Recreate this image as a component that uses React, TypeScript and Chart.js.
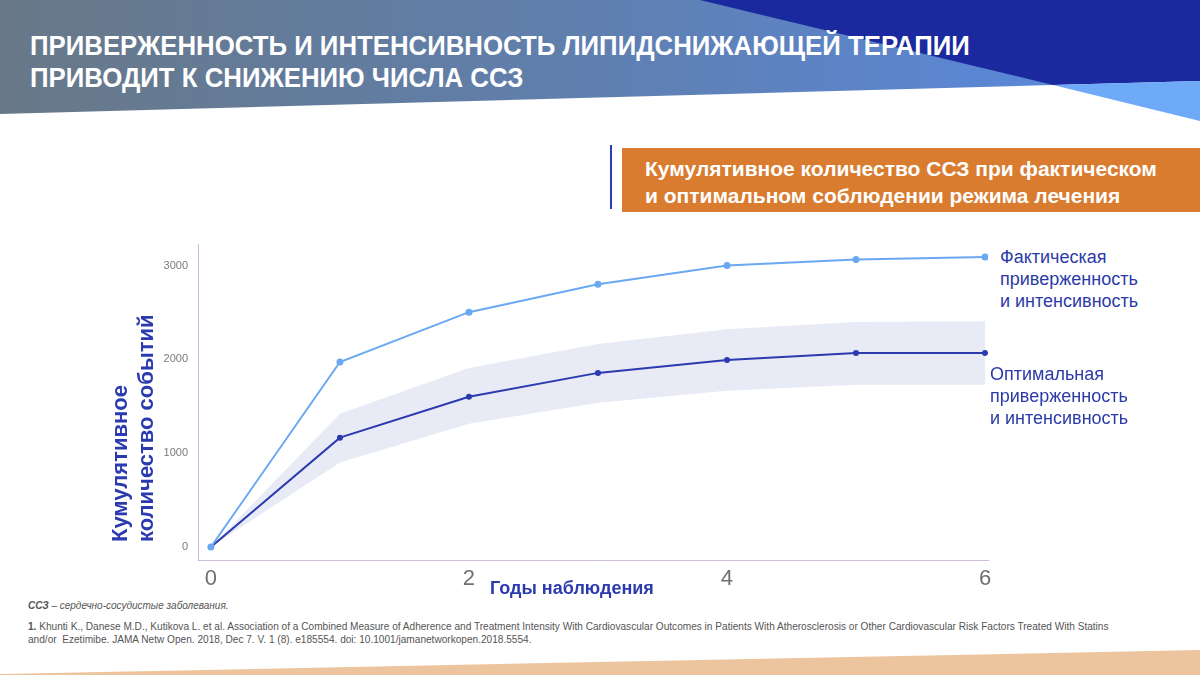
import React, { useEffect, useRef } from "react";
import { Chart, registerables } from "chart.js";

Chart.register(...registerables);

const years = [0, 1, 2, 3, 4, 5, 6];
const actualAdherence = [0, 1972, 2503, 2800, 3000, 3065, 3090];
const optimalAdherence = [0, 1166, 1601, 1856, 1994, 2068, 2068];
const optimalUpper = [0, 1421, 1909, 2163, 2322, 2397, 2407];
const optimalLower = [0, 901, 1315, 1538, 1665, 1729, 1729];
const xTickValues = [0, 2, 4, 6];
const yTickValues = [0, 1000, 2000, 3000];

const NAVY = "#2b3aae";
const LIGHT = "#6aa9f2";
const FONT = "'Liberation Sans', Arial, sans-serif";

const toPoints = (vals: number[]) => years.map((x, i) => ({ x, y: vals[i] }));

export default function App() {
  const ref = useRef<HTMLCanvasElement | null>(null);

  useEffect(() => {
    if (!ref.current) return;
    const chart = new Chart(ref.current, {
      type: "line",
      data: {
        datasets: [
          {
            label: "Фактическая приверженность и интенсивность",
            data: toPoints(actualAdherence),
            borderColor: LIGHT,
            backgroundColor: LIGHT,
            borderWidth: 2,
            pointRadius: 3.5,
            pointBorderWidth: 0,
            fill: false,
          },
          {
            label: "Оптимальная приверженность и интенсивность",
            data: toPoints(optimalAdherence),
            borderColor: NAVY,
            backgroundColor: NAVY,
            borderWidth: 2,
            pointRadius: 3,
            pointBorderWidth: 0,
            fill: false,
          },
          {
            label: "upper",
            data: toPoints(optimalUpper),
            borderWidth: 0,
            borderColor: "rgba(0,0,0,0)",
            backgroundColor: "#e8eaf6",
            pointRadius: 0,
            fill: "+1",
          },
          {
            label: "lower",
            data: toPoints(optimalLower),
            borderWidth: 0,
            borderColor: "rgba(0,0,0,0)",
            backgroundColor: "#e8eaf6",
            pointRadius: 0,
            fill: false,
          },
        ],
      },
      options: {
        responsive: false,
        animation: false,
        layout: { padding: { top: 9, right: 12, left: 0, bottom: 0 } },
        plugins: {
          legend: { display: false },
          tooltip: { enabled: false },
        },
        scales: {
          x: {
            type: "linear",
            min: -0.1,
            max: 6.023,
            grid: { display: false, drawTicks: false },
            border: { display: true, color: "#cdb9db", width: 1 },
            ticks: {
              color: "#707070",
              font: { family: FONT, size: 22 },
              padding: 6,
              maxRotation: 0,
              callback: (v: any) => String(v),
            },
            afterBuildTicks: (s: any) => {
              s.ticks = xTickValues.map((v) => ({ value: v }));
            },
            afterFit: (s: any) => {
              s.height = 40;
            },
          },
          y: {
            type: "linear",
            min: -138,
            max: 3223,
            grid: { display: false, drawTicks: false },
            border: { display: true, color: "#cdb9db", width: 1 },
            ticks: {
              color: "#7a7a7a",
              font: { family: FONT, size: 11 },
              padding: 10,
              callback: (v: any) => String(v),
            },
            afterBuildTicks: (s: any) => {
              s.ticks = yTickValues.map((v) => ({ value: v }));
            },
            afterFit: (s: any) => {
              s.width = 58;
            },
          },
        },
      },
    });
    return () => chart.destroy();
  }, []);

  return (
    <div
      style={{
        position: "fixed",
        left: 0,
        top: 0,
        width: 1200,
        height: 675,
        overflow: "hidden",
        background: "#ffffff",
        fontFamily: FONT,
      }}
    >
      <svg
        width={1200}
        height={675}
        style={{ position: "absolute", left: 0, top: 0, display: "block" }}
      >
        <defs>
          <linearGradient id="hdr" x1="0" y1="0" x2="1" y2="0">
            <stop offset="0" stopColor="#687887" />
            <stop offset="0.55" stopColor="#5f7fae" />
            <stop offset="1" stopColor="#5a87d8" />
          </linearGradient>
        </defs>
        <polygon points="0,0 1053,0 1053,85 0,114" fill="url(#hdr)" />
        <polygon points="700,0 1200,0 1200,81 1053,85" fill="#1a2a9e" />
        <polygon points="1053,85 1200,81 1200,121" fill="#6eaaf8" />
        <polygon points="0,674 1200,650 1200,675 0,675" fill="#ecc59e" />
        <rect x={610} y={145} width={2} height={64} fill="#2b3bb5" />
        <rect x={622} y={148} width={578} height={64} fill="#d97c30" />
      </svg>

      <div
        style={{
          position: "absolute",
          left: 30,
          top: 30,
          color: "#ffffff",
          fontWeight: 700,
          fontSize: 27,
          lineHeight: "32px",
          whiteSpace: "nowrap",
          transform: "scaleX(0.955)",
          transformOrigin: "left top",
        }}
      >
        ПРИВЕРЖЕННОСТЬ И ИНТЕНСИВНОСТЬ ЛИПИДСНИЖАЮЩЕЙ ТЕРАПИИ
        <br />
        ПРИВОДИТ К СНИЖЕНИЮ ЧИСЛА ССЗ
      </div>

      <div
        style={{
          position: "absolute",
          left: 645,
          top: 155,
          color: "#ffffff",
          fontWeight: 700,
          fontSize: 21,
          lineHeight: "27px",
          whiteSpace: "nowrap",
        }}
      >
        Кумулятивное количество ССЗ при фактическом
        <br />
        и оптимальном соблюдении режима лечения
      </div>

      <canvas
        ref={ref}
        width={860}
        height={372}
        style={{ position: "absolute", left: 140, top: 228, width: 860, height: 372 }}
      />

      <div
        style={{
          position: "absolute",
          left: 107,
          top: 306,
          height: 236,
          width: 54,
          writingMode: "vertical-rl",
          transform: "rotate(180deg)",
          color: NAVY,
          fontWeight: 700,
          fontSize: 22,
          lineHeight: "26px",
          whiteSpace: "nowrap",
        }}
      >
        Кумулятивное
        <br />
        количество событий
      </div>

      <div
        style={{
          position: "absolute",
          left: 490,
          top: 577,
          color: NAVY,
          fontWeight: 700,
          fontSize: 18,
          lineHeight: "22px",
          whiteSpace: "nowrap",
        }}
      >
        Годы наблюдения
      </div>

      <div
        style={{
          position: "absolute",
          left: 1000,
          top: 246,
          color: "#2c3aa8",
          fontSize: 18,
          lineHeight: "22px",
          whiteSpace: "nowrap",
        }}
      >
        Фактическая
        <br />
        приверженность
        <br />
        и интенсивность
      </div>

      <div
        style={{
          position: "absolute",
          left: 990,
          top: 363,
          color: "#2c3aa8",
          fontSize: 18,
          lineHeight: "22px",
          whiteSpace: "nowrap",
        }}
      >
        Оптимальная
        <br />
        приверженность
        <br />
        и интенсивность
      </div>

      <div
        style={{
          position: "absolute",
          left: 28,
          top: 600,
          color: "#555555",
          fontSize: 10,
          fontStyle: "italic",
          whiteSpace: "nowrap",
        }}
      >
        <b>ССЗ</b> – сердечно-сосудистые заболевания.
      </div>

      <div
        style={{
          position: "absolute",
          left: 28,
          top: 620,
          color: "#555555",
          fontSize: 10.1,
          lineHeight: "13px",
          whiteSpace: "nowrap",
        }}
      >
        <b>1.</b> Khunti K., Danese M.D., Kutikova L. et al. Association of a Combined Measure of Adherence and
        Treatment Intensity With Cardiovascular Outcomes in Patients With Atherosclerosis or Other Cardiovascular
        Risk Factors Treated With Statins
        <br />
        and/or&nbsp; Ezetimibe. JAMA Netw Open. 2018, Dec 7. V. 1 (8). e185554. doi: 10.1001/jamanetworkopen.2018.5554.
      </div>
    </div>
  );
}
